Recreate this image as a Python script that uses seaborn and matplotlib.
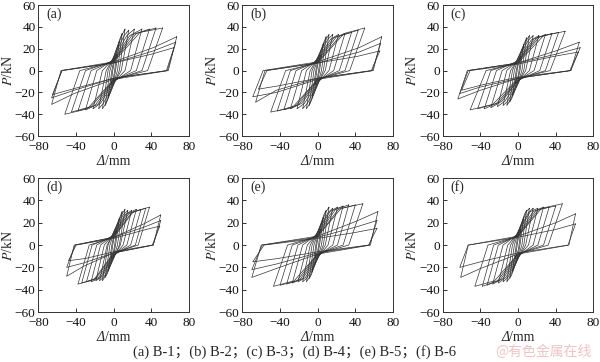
import matplotlib
matplotlib.use("Agg")
import matplotlib.pyplot as plt
from matplotlib.offsetbox import TextArea, HPacker, AnchoredOffsetbox
import pandas as pd
import seaborn as sns

# ------------------------------- Data -----------------------------------------------------------------------
# per loop: positive peak (disp, load), zero-load point after unloading, load at zero disp,
# knee on the way to the negative peak, negative peak, ... and back

# B-1
a_dp = [3, 6, 9, 12, 16, 22, 30, 38, 45, 52, 67, 66, 64]
a_pp = [15, 27, 34, 38, 37, 38, 38, 38, 39, 39, 31, 26, 21]
a_rp = [1, 2, 4, 6, 8, 12, 18, 24, 30, 36, 58, 57, 56]
a_zn = [-5, -9, -12, -13, -12, -11, -10, -9, -9, -8, -8, -7, -7]
a_kdn = [-2, -5, -7, -9, -11, -14, -17, -20, -24, -28, -42, -42, -40]
a_kpn = [-11, -22, -28, -31, -30, -30, -31, -32, -33, -35, -21, -18, -16]
a_dn = [-3, -6, -9, -12, -16, -22, -30, -38, -45, -52, -66, -66, -65]
a_pn = [-13, -25, -32, -35, -35, -35, -36, -37, -38, -40, -31, -25, -22]
a_rn = [-1, -2, -4, -6, -8, -12, -18, -24, -30, -36, -56, -55, -55]
a_zp = [5, 9, 12, 13, 12, 11, 10, 9, 9, 8, 8, 7, 7]
a_kdp = [2, 5, 7, 9, 11, 14, 17, 20, 24, 28, 42, 42, 40]
a_kpp = [12, 23, 30, 33, 32, 32, 32, 33, 34, 35, 21, 18, 15]

# B-2
b_dp = [3, 6, 9, 12, 16, 22, 29, 36, 43, 50, 68, 67, 66]
b_pp = [14, 25, 31, 33, 33, 33, 34, 35, 37, 39, 31, 25, 18]
b_rp = [1, 2, 4, 6, 8, 12, 17, 23, 29, 34, 59, 58, 57]
b_zn = [-5, -9, -12, -13, -12, -11, -10, -9, -8, -8, -8, -7, -7]
b_kdn = [-2, -5, -7, -9, -11, -14, -17, -20, -23, -27, -44, -44, -42]
b_kpn = [-11, -22, -28, -31, -30, -30, -30, -31, -32, -34, -20, -18, -14]
b_dn = [-3, -6, -9, -12, -16, -22, -29, -36, -43, -50, -69, -66, -63]
b_pn = [-13, -25, -32, -35, -35, -35, -35, -36, -37, -38, -24, -29, -17]
b_rn = [-1, -2, -4, -6, -8, -12, -17, -23, -29, -34, -58, -56, -54]
b_zp = [5, 9, 11, 12, 12, 11, 10, 9, 8, 7, 8, 7, 7]
b_kdp = [2, 5, 7, 9, 11, 14, 17, 20, 24, 28, 44, 44, 42]
b_kpp = [12, 21, 27, 29, 29, 29, 30, 31, 32, 34, 21, 17, 13]

# B-3
c_dp = [3, 6, 9, 12, 16, 22, 29, 36, 43, 50, 65, 66, 64]
c_pp = [13, 24, 30, 32, 32, 32, 33, 34, 35, 36, 26, 21, 17]
c_rp = [1, 2, 4, 6, 8, 12, 17, 23, 29, 34, 56, 56, 55]
c_zn = [-5, -8, -11, -12, -11, -10, -9, -9, -8, -7, -7, -7, -6]
c_kdn = [-2, -5, -7, -9, -11, -14, -17, -20, -23, -27, -40, -40, -38]
c_kpn = [-10, -20, -26, -28, -28, -28, -28, -29, -30, -31, -18, -15, -13]
c_dn = [-3, -6, -9, -12, -16, -22, -29, -36, -43, -51, -64, -62, -60]
c_pn = [-12, -23, -29, -32, -32, -33, -34, -35, -35, -36, -26, -21, -18]
c_rn = [-1, -2, -4, -6, -8, -12, -17, -23, -29, -34, -54, -53, -51]
c_zp = [5, 8, 11, 12, 11, 10, 9, 9, 8, 7, 7, 7, 6]
c_kdp = [2, 5, 7, 9, 11, 14, 17, 20, 23, 27, 40, 40, 38]
c_kpp = [11, 20, 26, 28, 28, 28, 29, 30, 31, 32, 18, 15, 13]

# B-4
d_dp = [3, 6, 9, 12, 15, 19, 24, 29, 34, 38, 50, 50, 49]
d_pp = [13, 24, 30, 32, 31, 31, 32, 32, 33, 34, 27, 22, 17]
d_rp = [1, 2, 4, 6, 7, 10, 14, 18, 23, 26, 42, 42, 41]
d_zn = [-5, -8, -11, -12, -11, -10, -9, -9, -8, -7, -7, -7, -6]
d_kdn = [-2, -5, -7, -9, -10, -12, -14, -16, -19, -21, -32, -32, -30]
d_kpn = [-10, -20, -26, -28, -28, -28, -29, -29, -30, -31, -19, -16, -12]
d_dn = [-3, -6, -9, -12, -15, -19, -24, -29, -34, -38, -50, -50, -48]
d_pn = [-12, -23, -29, -32, -32, -32, -33, -33, -34, -35, -28, -20, -14]
d_rn = [-1, -2, -4, -6, -7, -10, -14, -18, -23, -26, -42, -41, -40]
d_zp = [5, 8, 11, 12, 11, 10, 9, 9, 8, 7, 7, 7, 6]
d_kdp = [2, 5, 7, 9, 10, 12, 14, 16, 19, 21, 32, 32, 30]
d_kpp = [11, 20, 26, 28, 27, 27, 28, 28, 29, 30, 19, 16, 13]

# B-5
e_dp = [3, 6, 9, 12, 16, 21, 27, 33, 40, 48, 64, 63, 63]
e_pp = [14, 25, 31, 34, 33, 34, 35, 36, 36, 37, 30, 22, 15]
e_rp = [1, 2, 4, 6, 8, 11, 16, 21, 27, 33, 56, 55, 54]
e_zn = [-5, -9, -11, -12, -12, -11, -10, -9, -8, -8, -8, -7, -6]
e_kdn = [-2, -5, -7, -9, -11, -13, -16, -19, -22, -25, -44, -44, -42]
e_kpn = [-10, -21, -27, -29, -29, -29, -30, -31, -32, -32, -21, -17, -12]
e_dn = [-3, -6, -9, -12, -16, -21, -27, -33, -40, -47, -70, -70, -69]
e_pn = [-12, -24, -30, -33, -33, -33, -34, -35, -36, -37, -29, -22, -15]
e_rn = [-1, -2, -4, -6, -8, -11, -16, -21, -27, -32, -60, -59, -57]
e_zp = [5, 9, 11, 12, 12, 11, 10, 9, 8, 8, 8, 7, 6]
e_kdp = [2, 5, 7, 9, 11, 13, 16, 19, 22, 25, 40, 40, 38]
e_kpp = [12, 22, 28, 30, 29, 30, 31, 32, 32, 33, 21, 16, 11]

# B-6
f_dp = [3, 6, 9, 12, 16, 21, 27, 33, 40, 47, 61, 61]
f_pp = [14, 25, 31, 33, 33, 33, 34, 34, 35, 37, 28, 19]
f_rp = [1, 2, 4, 6, 8, 11, 16, 21, 27, 32, 54, 53]
f_zn = [-5, -9, -11, -12, -12, -11, -10, -9, -8, -8, -8, -7]
f_kdn = [-2, -5, -7, -9, -11, -13, -16, -19, -22, -25, -40, -40]
f_kpn = [-10, -21, -27, -29, -29, -29, -30, -31, -32, -32, -21, -15]
f_dn = [-3, -6, -9, -12, -16, -21, -27, -33, -38, -46, -61, -62]
f_pn = [-12, -24, -30, -33, -33, -34, -35, -36, -37, -37, -29, -20]
f_rn = [-1, -2, -4, -6, -8, -11, -16, -21, -26, -32, -53, -53]
f_zp = [5, 9, 11, 12, 12, 11, 10, 9, 8, 8, 8, 7]
f_kdp = [2, 5, 7, 9, 11, 13, 16, 19, 22, 25, 40, 40]
f_kpp = [12, 22, 28, 30, 29, 30, 30, 31, 32, 33, 20, 14]

panel_labels = ["(a)", "(b)", "(c)", "(d)", "(e)", "(f)"]
x_ticks = [-80, -40, 0, 40, 80]
y_ticks = [-60, -40, -20, 0, 20, 40, 60]
caption = "(a) B-1；(b) B-2；(c) B-3；(d) B-4；(e) B-5；(f) B-6"
watermark = "@有色金属在线"


# ------------------------------- Helpers ----------------------------------------------

def loop_table(dp, pp, rp, zn, kdn, kpn, dn, pn, rn, zp, kdp, kpp):
    """one row per vertex, loops kept apart by the 'loop' column"""
    rows = []
    for i in range(len(dp)):
        pts = [(dp[i], pp[i]), (rp[i], 0), (0, zn[i]), (kdn[i], kpn[i]), (dn[i], pn[i]),
               (rn[i], 0), (0, zp[i]), (kdp[i], kpp[i]), (dp[i], pp[i])]
        for k, (d, p) in enumerate(pts):
            rows.append({"loop": i, "step": k, "disp": d, "load": p})
    return pd.DataFrame(rows)


def delta_label(ax, y):
    # italic Delta + upright "/mm", centred under the axes
    parts = HPacker(children=[TextArea("Δ", textprops=dict(style="italic", size=10)),
                              TextArea("/mm", textprops=dict(size=10))],
                    align="baseline", pad=0, sep=0)
    box = AnchoredOffsetbox(loc="upper center", child=parts, pad=0, borderpad=0, frameon=False,
                            bbox_to_anchor=(0.5, y), bbox_transform=ax.transAxes)
    ax.add_artist(box)


panels = [
    loop_table(a_dp, a_pp, a_rp, a_zn, a_kdn, a_kpn, a_dn, a_pn, a_rn, a_zp, a_kdp, a_kpp),
    loop_table(b_dp, b_pp, b_rp, b_zn, b_kdn, b_kpn, b_dn, b_pn, b_rn, b_zp, b_kdp, b_kpp),
    loop_table(c_dp, c_pp, c_rp, c_zn, c_kdn, c_kpn, c_dn, c_pn, c_rn, c_zp, c_kdp, c_kpp),
    loop_table(d_dp, d_pp, d_rp, d_zn, d_kdn, d_kpn, d_dn, d_pn, d_rn, d_zp, d_kdp, d_kpp),
    loop_table(e_dp, e_pp, e_rp, e_zn, e_kdn, e_kpn, e_dn, e_pn, e_rn, e_zp, e_kdp, e_kpp),
    loop_table(f_dp, f_pp, f_rp, f_zn, f_kdn, f_kpn, f_dn, f_pn, f_rn, f_zp, f_kdp, f_kpp),
]

# ------------------------------- Plot ----------------------------------------------

sns.set_theme(style="white")
plt.rcParams["font.family"] = ["Liberation Serif", "Noto Sans CJK SC"]
plt.rcParams["mathtext.fontset"] = "stix"

fig = plt.figure(figsize=(6, 3.62), dpi=100)
lefts = [0.064, 0.404, 0.738]
bottoms = [0.624, 0.138]
heights = [0.362, 0.370]

for n, df in enumerate(panels):
    row, col = divmod(n, 3)
    ax = fig.add_axes([lefts[col], bottoms[row], 0.251, heights[row]])
    sns.lineplot(data=df, x="disp", y="load", units="loop", estimator=None, sort=False,
                 color="#333333", linewidth=0.5, ax=ax)
    ax.set_xlim(-80, 80)
    ax.set_ylim(-60, 60)
    ax.set_xticks(x_ticks)
    ax.set_yticks(y_ticks)
    ax.tick_params(axis="both", direction="in", length=3, width=0.6, labelsize=9.5,
                   left=True, bottom=True, colors="#111111")
    ax.tick_params(axis="x", pad=3.5)
    ax.tick_params(axis="y", pad=2)
    for sp in ax.spines.values():
        sp.set_linewidth(0.7)
        sp.set_color("#333333")
    ax.set_xlabel("")
    delta_label(ax, -0.145)
    ax.set_ylabel(r"$P$/kN", fontsize=10, labelpad=0)
    ax.text(0.05, 0.93, panel_labels[n], transform=ax.transAxes, fontsize=10,
            ha="left", va="center")

fig.text(0.222, 0.028, caption, fontsize=10.5, ha="left", va="center")
fig.text(0.825, 0.028, watermark, fontsize=10, ha="left", va="center",
         color="#f0c4c4", family=["Noto Sans CJK SC", "DejaVu Sans"])

fig.savefig("out.png", dpi=100)
